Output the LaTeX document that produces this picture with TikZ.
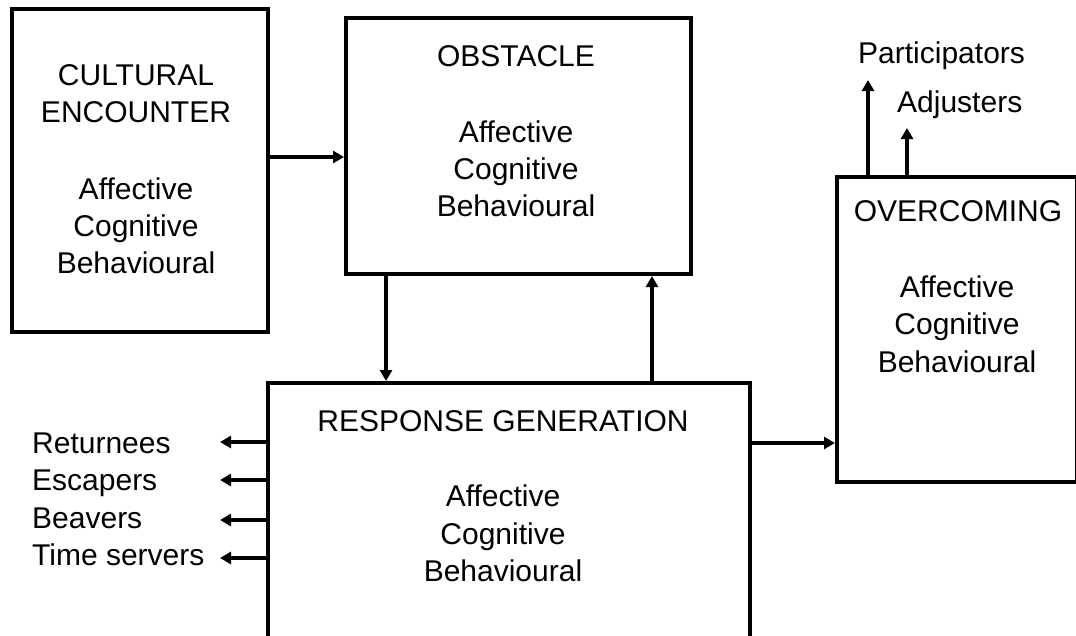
\documentclass[tikz,border=0pt]{standalone}
\usepackage{fontspec}
\setmainfont{Liberation Sans}
\usetikzlibrary{arrows.meta}

\tikzset{
  stagebox/.style={draw=black, line width=4pt, fill=white, inner sep=0pt},
  lbl/.style={font=\fontsize{30}{37}\selectfont, inner sep=0pt, anchor=base, text=black},
  lblw/.style={lbl, anchor=base west},
  flow/.style={line width=3.5pt, -{Triangle[length=11pt,width=12pt]}},
}

\begin{document}
\begin{tikzpicture}[x=1pt,y=-1pt]
  \useasboundingbox (0,0) rectangle (1076,635);
  \fill[white] (0,0) rectangle (1076,635);
  \clip (0,0) rectangle (1076,635);

  % the four stage boxes
  \node[stagebox, minimum width=256pt, minimum height=323pt] (ce) at (140,170.5) {};
  \node[stagebox, minimum width=345pt, minimum height=256pt] (ob) at (518.5,146) {};
  \node[stagebox, minimum width=482pt, minimum height=300pt] (rg) at (509,533) {};
  \node[stagebox, minimum width=240pt, minimum height=305pt] (oc) at (957,329.5) {};

  % box texts
  \node[lbl] (ce1) at (136,85) {CULTURAL};
  \node[lbl] (ce2) at (136,122.5) {ENCOUNTER};
  \node[lbl] (ce3) at (136,199) {Affective};
  \node[lbl] (ce4) at (136,236) {Cognitive};
  \node[lbl] (ce5) at (136,273) {Behavioural};

  \node[lbl] (ob1) at (516,66) {OBSTACLE};
  \node[lbl] (ob2) at (516,142) {Affective};
  \node[lbl] (ob3) at (516,179) {Cognitive};
  \node[lbl] (ob4) at (516,216) {Behavioural};

  \node[lbl] (rg1) at (503,431) {RESPONSE GENERATION};
  \node[lbl] (rg2) at (503,506) {Affective};
  \node[lbl] (rg3) at (503,544) {Cognitive};
  \node[lbl] (rg4) at (503,581.5) {Behavioural};

  \node[lbl] (oc1) at (958,221) {OVERCOMING};
  \node[lbl] (oc2) at (957,297) {Affective};
  \node[lbl] (oc3) at (957,334.5) {Cognitive};
  \node[lbl] (oc4) at (957,372) {Behavioural};

  % outcome labels
  \node[lblw] (ret) at (32,453) {Returnees};
  \node[lblw] (esc) at (32,490) {Escapers};
  \node[lblw] (bea) at (32,528) {Beavers};
  \node[lblw] (tim) at (32,565) {Time servers};
  \node[lblw] (par) at (858,63) {Participators};
  \node[lblw] (adj) at (897,112) {Adjusters};

  % free ends of the outcome arrows
  \coordinate (retE) at (220,442);
  \coordinate (escE) at (220,480);
  \coordinate (beaE) at (220,520);
  \coordinate (timE) at (220,558);
  \coordinate (parE) at (868,80);
  \coordinate (adjE) at (907,128);

  % flow between stages
  \draw[flow] (ce.east |- 0,157) -- (ob.west |- 0,157);
  \draw[flow] (ob.south -| 386,0) -- (rg.north -| 386,0);
  \draw[flow] (rg.north -| 652,0) -- (ob.south -| 652,0);
  \draw[flow] (rg.east |- 0,443) -- (oc.west |- 0,443);

  % outcomes
  \draw[flow] (rg.west |- retE) -- (retE);
  \draw[flow] (rg.west |- escE) -- (escE);
  \draw[flow] (rg.west |- beaE) -- (beaE);
  \draw[flow] (rg.west |- timE) -- (timE);
  \draw[flow] (oc.north -| parE) -- (parE);
  \draw[flow] (oc.north -| adjE) -- (adjE);
\end{tikzpicture}
\end{document}
